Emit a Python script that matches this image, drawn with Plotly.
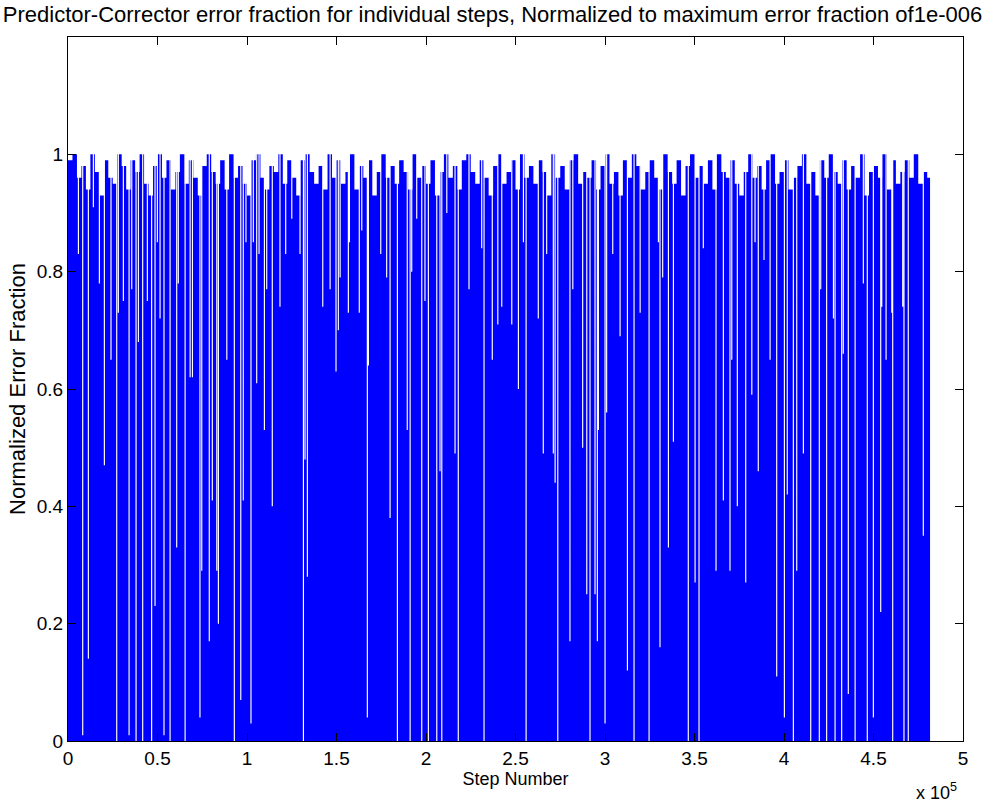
import numpy as np
import plotly.graph_objects as go

# Step count of the run and the crest of the error fraction per block of 2500 steps
last_step = 481600
crest_block = 2500
crest_levels = [
    0.99, 1.00, 0.96, 0.98, 0.94, 1.00, 0.97, 0.93, 0.99, 0.96,
    0.95, 1.00, 0.98, 0.94, 0.99, 0.97, 1.00, 0.95, 0.93, 0.98,
    1.00, 0.96, 0.99, 0.94, 0.97, 1.00, 0.95, 0.99, 0.96, 0.93,
    0.98, 1.00, 0.97, 0.95, 0.99, 0.94, 1.00, 0.96, 0.98, 0.95,
    0.93, 0.99, 1.00, 0.96, 0.94, 0.98, 0.97, 1.00, 0.95, 0.99,
    0.96, 0.93, 0.99, 1.00, 0.97, 0.95, 0.98, 0.94, 1.00, 0.96,
    0.99, 0.95, 0.97, 1.00, 0.94, 0.98, 0.96, 0.99, 0.93, 0.97,
    1.00, 0.96, 0.98, 0.95, 0.99, 0.97, 0.94, 1.00, 0.96, 0.98,
    0.95, 0.99, 0.93, 0.97, 1.00, 0.96, 0.98, 0.94, 0.99, 1.00,
    0.97, 0.95, 0.99, 0.96, 0.93, 0.98, 1.00, 0.95, 0.97, 0.99,
    0.94, 1.00, 0.96, 0.98, 0.95, 0.99, 0.97, 0.93, 1.00, 0.96,
    0.98, 0.94, 0.99, 1.00, 0.95, 0.97, 0.96, 0.99, 0.94, 0.98,
    1.00, 0.95, 0.97, 0.93, 0.99, 0.96, 1.00, 0.98, 0.94, 0.97,
    0.99, 0.96, 0.94, 1.00, 0.97, 0.95, 0.99, 0.93, 0.98, 1.00,
    0.96, 0.98, 0.95, 0.99, 0.94, 1.00, 0.97, 0.96, 0.99, 0.95,
    0.93, 0.97, 1.00, 0.96, 0.98, 0.94, 0.99, 1.00, 0.95, 0.97,
    0.99, 0.94, 0.96, 0.98, 1.00, 0.95, 0.97, 0.93, 0.99, 0.96,
    1.00, 0.97, 0.95, 0.99, 0.94, 0.98, 0.96, 1.00, 0.93, 0.97,
    0.98, 0.96, 1.00, 0.94, 0.99, 0.95, 0.97, 0.99, 0.96, 1.00,
    0.95, 0.97, 0.96,
]

# Steps where the normalized error fraction stays low, and the level it peaks at there
dip_steps = [
    5800, 8200, 11350, 14150, 17500, 20300, 24000, 27200, 28100, 30900,
    34100, 35600, 38000, 39300, 41700, 44300, 46700, 48600, 49900, 51400,
    53600, 57000, 60700, 61600, 65400, 68200, 69500, 73700, 74700, 78900,
    80600, 83100, 84000, 88700, 92900, 96500, 97900, 99400, 102200, 103500,
    105400, 106700, 109700, 111000, 114100, 118400, 121600, 125000, 129600, 131500,
    132400, 133700, 142300, 146400, 149700, 151000, 152000, 156600, 157200, 162700,
    164100, 167200, 167800, 174700, 178000, 179900, 184000, 189500, 191100, 192000,
    194800, 197600, 199400, 201300, 206000, 207800, 208800, 211600, 216200, 218000,
    224000, 231100, 232400, 237000, 240100, 242300, 247900, 251600, 254400, 255900,
    262700, 265500, 267400, 271100, 272100, 273600, 280400, 282000, 287500, 289800,
    291600, 294400, 295700, 296300, 300000, 300900, 304300, 308400, 312500, 316200,
    319600, 324600, 329800, 330700, 332200, 335400, 338200, 346500, 350300, 352500,
    354900, 362000, 366100, 369800, 370800, 373900, 378600, 382000, 383800, 385600,
    388800, 392200, 395900, 400200, 401800, 405200, 407100, 410800, 414900, 419700,
    420500, 423800, 427600, 428500, 432200, 433100, 435900, 439700, 444300, 446500,
    449900, 454000, 454600, 457000, 460200, 460700, 466300, 467000, 469400, 477800,
]
dip_levels = [
    0.83, 0.01, 0.14, 0.91, 0.78, 0.47, 0.65, 0.00, 0.73, 0.75,
    0.01, 0.77, 0.00, 0.68, 0.00, 0.75, 0.00, 0.23, 0.85, 0.72,
    0.01, 0.00, 0.33, 0.78, 0.00, 0.62, 0.62, 0.04, 0.29, 0.17,
    0.41, 0.29, 0.20, 0.65, 0.00, 0.07, 0.41, 0.85, 0.03, 0.85,
    0.61, 0.83, 0.53, 0.77, 0.40, 0.74, 0.83, 0.89, 0.83, 0.00,
    0.48, 0.28, 0.74, 0.77, 0.63, 0.70, 0.79, 0.73, 0.85, 0.73,
    0.87, 0.04, 0.64, 0.83, 0.79, 0.38, 0.00, 0.53, 0.00, 0.80,
    0.89, 0.00, 0.75, 0.00, 0.00, 0.46, 0.00, 0.90, 0.49, 0.00,
    0.77, 0.84, 0.00, 0.65, 0.71, 0.74, 0.71, 0.60, 0.85, 0.00,
    0.72, 0.49, 0.83, 0.49, 0.44, 0.00, 0.17, 0.77, 0.50, 0.25,
    0.00, 0.25, 0.17, 0.53, 0.03, 0.56, 0.83, 0.69, 0.12, 0.00,
    0.73, 0.00, 0.85, 0.16, 0.79, 0.33, 0.51, 0.00, 0.27, 0.00,
    0.84, 0.29, 0.41, 0.29, 0.65, 0.40, 0.27, 0.59, 0.85, 0.46,
    0.82, 0.65, 0.11, 0.04, 0.42, 0.00, 0.29, 0.49, 0.00, 0.00,
    0.77, 0.00, 0.72, 0.00, 0.00, 0.66, 0.08, 0.00, 0.78, 0.00,
    0.04, 0.22, 0.74, 0.65, 0.73, 0.00, 0.74, 0.00, 0.00, 0.35,
]

x_tick_vals = [0, 50000, 100000, 150000, 200000, 250000, 300000, 350000, 400000, 450000, 500000]
x_tick_text = ["0", "0.5", "1", "1.5", "2", "2.5", "3", "3.5", "4", "4.5", "5"]
y_tick_vals = [0, 0.2, 0.4, 0.6, 0.8, 1.0]
y_tick_text = ["0", "0.2", "0.4", "0.6", "0.8", "1"]

# Upper envelope of the per-step error fraction sampled on a fine step grid
grid_res = 50
notch_width = 620
steps = np.arange(0, last_step + grid_res, grid_res)
block_idx = np.minimum(steps // crest_block, len(crest_levels) - 1)
envelope = np.array(crest_levels)[block_idx]
for s, v in zip(dip_steps, dip_levels):
    hit = np.abs(steps - s) <= notch_width / 2
    envelope[hit] = np.minimum(envelope[hit], v)

fig = go.Figure()
fig.add_trace(go.Scatter(
    x=steps, y=envelope,
    mode="none", fill="tozeroy", fillcolor="#0000ff",
    line=dict(shape="hv", width=0),
    hoverinfo="skip", showlegend=False,
))

font_family = "Liberation Sans, Arial, sans-serif"
axis_common = dict(
    showline=True, linecolor="black", linewidth=1, mirror="ticks",
    ticks="inside", ticklen=8, tickcolor="black", tickwidth=1,
    showgrid=False, zeroline=False,
    tickfont=dict(family=font_family, size=19, color="black"),
)

fig.update_layout(
    width=985, height=804,
    margin=dict(l=68, r=22, t=37, b=63),
    paper_bgcolor="white", plot_bgcolor="white",
    title=dict(
        text="Predictor-Corrector error fraction for individual steps, Normalized to maximum error fraction of1e-006",
        font=dict(family=font_family, size=22, color="black"),
        x=0.5, xanchor="center", y=0.982, yanchor="middle",
    ),
    xaxis=dict(
        range=[0, 500000], tickvals=x_tick_vals, ticktext=x_tick_text,
        title=dict(text="Step Number", standoff=1,
                   font=dict(family=font_family, size=18, color="black")),
        **axis_common,
    ),
    yaxis=dict(
        range=[0, 1.2], tickvals=y_tick_vals, ticktext=y_tick_text,
        title=dict(text="Normalized Error Fraction", standoff=5,
                   font=dict(family=font_family, size=22, color="black")),
        **axis_common,
    ),
    annotations=[dict(
        text="x 10<sup>5</sup>", xref="paper", yref="paper",
        x=0.995, y=-0.072, xanchor="right", yanchor="middle", showarrow=False,
        font=dict(family=font_family, size=18, color="black"),
    )],
)

fig.write_html("out.html")
